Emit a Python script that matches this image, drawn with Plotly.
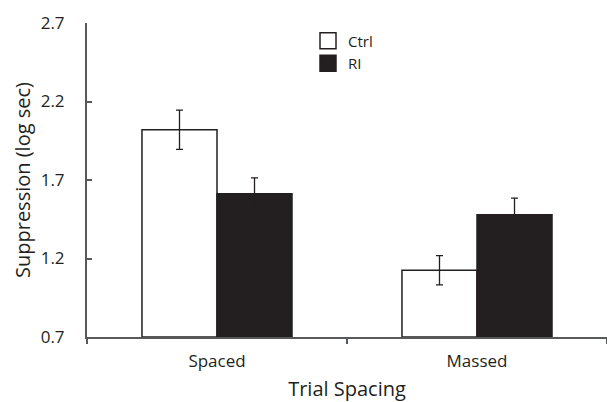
import plotly.graph_objects as go

categories = ["Spaced", "Massed"]
ctrl_values = [2.02, 1.125]
ctrl_err = [0.125, 0.093]
ri_values = [1.613, 1.479]
ri_err = [0.1, 0.105]
y_ticks = [0.7, 1.2, 1.7, 2.2, 2.7]

FONT = "Open Sans"
AX = "#58595b"
DARK = "#231f20"

fig = go.Figure()
fig.add_trace(go.Bar(
    x=categories, y=[v - 0.7 for v in ctrl_values], base=0.7, name="Ctrl",
    marker=dict(color="white", line=dict(color=DARK, width=1.5)),
    error_y=dict(type="data", array=ctrl_err, color=DARK, thickness=1.3, width=3.5),
    showlegend=False,
))
fig.add_trace(go.Bar(
    x=categories, y=[v - 0.7 for v in ri_values], base=0.7, name="RI",
    marker=dict(color=DARK, line=dict(color=DARK, width=1.5)),
    error_y=dict(type="data", array=ri_err, color=DARK, thickness=1.3, width=3.5),
    showlegend=False,
))
# legend entries
fig.add_trace(go.Scatter(
    x=[None], y=[None], mode="markers", name="Ctrl",
    marker=dict(symbol="square", size=16, color="white", line=dict(color=DARK, width=1.5)),
))
fig.add_trace(go.Scatter(
    x=[None], y=[None], mode="markers", name="RI",
    marker=dict(symbol="square", size=16, color=DARK, line=dict(color=DARK, width=1.5)),
))

fig.update_layout(
    width=607, height=402,
    margin=dict(l=87, r=0, t=23, b=65),
    paper_bgcolor="white", plot_bgcolor="white",
    barmode="group", bargap=0.423, bargroupgap=0,
    font=dict(family=FONT, color="#231f20", size=16),
    legend=dict(x=0.425, y=0.995, xanchor="left", yanchor="top",
                bgcolor="rgba(0,0,0,0)", font=dict(size=15),
                itemsizing="trace", tracegroupgap=0, itemwidth=30),
    xaxis=dict(
        range=[-0.5, 1.5], showline=True, linecolor=AX, linewidth=2,
        ticks="outside", tickson="boundaries", ticklen=5, tickcolor=AX, tickwidth=1.5,
        showgrid=False, zeroline=False,
        title=dict(text="Trial Spacing", font=dict(size=20), standoff=12),
        tickfont=dict(size=17), ticklabelstandoff=8,
    ),
    yaxis=dict(
        range=[0.7, 2.7], tickvals=y_ticks, ticktext=[f"{t:.1f}" for t in y_ticks],
        showline=True, linecolor=AX, linewidth=2,
        ticks="inside", ticklen=5, tickcolor=AX, tickwidth=1.5,
        showgrid=False, zeroline=False,
        title=dict(text="Suppression (log sec)", font=dict(size=20), standoff=5),
        tickfont=dict(size=17), ticklabelstandoff=17,
    ),
)

fig.write_html("out.html", config={"displayModeBar": False},
               post_script="document.body.style.margin='0';")
